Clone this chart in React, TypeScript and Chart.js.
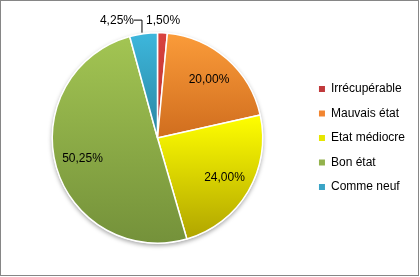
import React, { useEffect, useRef } from "react";
import { Chart, registerables } from "chart.js";

Chart.register(...registerables);

const categories = ["Irrécupérable", "Mauvais état", "Etat médiocre", "Bon état", "Comme neuf"];
const values = [1.5, 20.0, 24.0, 50.25, 4.25];
const valueLabels = ["1,50%", "20,00%", "24,00%", "50,25%", "4,25%"];
const topColors = ["#d9433f", "#fb9c3a", "#ffff00", "#a3c553", "#3db7dd"];
const bottomColors = ["#b8322f", "#d06d1e", "#b0a400", "#74913a", "#2a86a1"];
const legendColors = ["#c0393b", "#f28530", "#e6e600", "#93b24c", "#3aa4c6"];

const FONT = '"Liberation Sans", Arial, sans-serif';

function sliceGradient(ctx: any) {
  const chart = ctx.chart;
  const i = ctx.dataIndex;
  const area = chart.chartArea;
  if (!area || i === undefined) return topColors[i ?? 0];
  const cx = (area.left + area.right) / 2;
  const cy = (area.top + area.bottom) / 2;
  const r = Math.min(area.right - area.left, area.bottom - area.top) / 2;
  const total = values.reduce((a, b) => a + b, 0);
  let cum = 0;
  for (let k = 0; k < i; k++) cum += values[k];
  const a0 = -Math.PI / 2 + (2 * Math.PI * cum) / total;
  const a1 = a0 + (2 * Math.PI * values[i]) / total;
  const ys = [cy, cy + r * Math.sin(a0), cy + r * Math.sin(a1)];
  const within = (a: number) => {
    for (let k = -2; k <= 2; k++) {
      const t = a + k * 2 * Math.PI;
      if (t >= a0 && t <= a1) return true;
    }
    return false;
  };
  if (within(Math.PI / 2)) ys.push(cy + r);
  if (within(-Math.PI / 2)) ys.push(cy - r);
  const y0 = Math.min(...ys);
  const y1 = Math.max(...ys);
  const g = chart.ctx.createLinearGradient(0, y0, 0, y1 + 0.01);
  g.addColorStop(0, topColors[i]);
  g.addColorStop(1, bottomColors[i]);
  return g;
}

const shadowPlugin = {
  id: "pieShadow",
  beforeDatasetsDraw(chart: any) {
    const meta = chart.getDatasetMeta(0);
    const el = meta.data[0];
    if (!el) return;
    const { x, y, outerRadius } = el.getProps(["x", "y", "outerRadius"], true);
    const c = chart.ctx;
    c.save();
    c.beginPath();
    c.arc(x, y, outerRadius + 0.5, 0, Math.PI * 2);
    c.fillStyle = "#ffffff";
    c.shadowColor = "rgba(0,0,0,0.35)";
    c.shadowBlur = 4;
    c.shadowOffsetY = 2;
    c.fill();
    c.restore();
  },
};

const labelPlugin = {
  id: "sliceLabels",
  afterDatasetsDraw(chart: any) {
    const meta = chart.getDatasetMeta(0);
    const c = chart.ctx;
    c.save();
    c.font = `12px ${FONT}`;
    c.fillStyle = "#000000";
    c.textBaseline = "middle";
    meta.data.forEach((el: any, i: number) => {
      const { x, y, startAngle, endAngle, outerRadius } = el.getProps(
        ["x", "y", "startAngle", "endAngle", "outerRadius"],
        true
      );
      const mid = (startAngle + endAngle) / 2;
      const cos = Math.cos(mid);
      const sin = Math.sin(mid);
      if (values[i] >= 10) {
        const rr = outerRadius * 0.74;
        c.textAlign = "center";
        c.fillText(valueLabels[i], x + cos * rr, y + sin * rr);
      } else if (cos >= 0) {
        const rr = outerRadius * 1.12;
        c.textAlign = "center";
        c.fillText(valueLabels[i], x + cos * rr, y + sin * rr + 0.5);
      } else {
        const ex = x + cos * outerRadius;
        const ey = y + sin * outerRadius;
        const ly = y - outerRadius * 1.12 + 0.5;
        const lx = ex - 1.5;
        c.strokeStyle = "#000000";
        c.lineWidth = 1;
        c.beginPath();
        c.moveTo(lx, ey - 1);
        c.lineTo(lx, ly - 0.5);
        c.lineTo(lx - 8, ly - 0.5);
        c.stroke();
        c.textAlign = "right";
        c.fillText(valueLabels[i], lx - 8, ly);
      }
    });
    c.restore();
  },
};

export default function App() {
  const ref = useRef<HTMLCanvasElement | null>(null);
  useEffect(() => {
    if (!ref.current) return;
    const chart = new Chart(ref.current, {
      type: "pie",
      data: {
        labels: categories,
        datasets: [
          {
            data: values,
            backgroundColor: sliceGradient as any,
            borderColor: "#ffffff",
            borderWidth: 1.5,
          },
        ],
      },
      options: {
        animation: false,
        responsive: false,
        devicePixelRatio: 1,
        layout: { padding: { left: 8.5, right: 5, top: 32, bottom: 33 } },
        plugins: {
          tooltip: { enabled: false },
          legend: {
            position: "right",
            labels: {
              boxWidth: 6,
              boxHeight: 6,
              padding: 12.5,
              color: "#000000",
              font: { size: 12, family: FONT },
              generateLabels: () =>
                categories.map((text, i) => ({
                  text,
                  fillStyle: legendColors[i],
                  strokeStyle: legendColors[i],
                  lineWidth: 0,
                  hidden: false,
                  index: i,
                })),
            },
          },
        },
      },
      plugins: [shadowPlugin, labelPlugin],
    });
    return () => chart.destroy();
  }, []);
  return (
    <div style={{ position: "absolute", left: 0, top: 0, width: 420, height: 277, background: "#ffffff" }}>
      <canvas ref={ref} width={420} height={277} style={{ display: "block" }} />
      <div
        style={{
          position: "absolute",
          left: 0,
          top: 0,
          width: 419,
          height: 276,
          boxSizing: "border-box",
          border: "1px solid #868686",
          pointerEvents: "none",
        }}
      />
    </div>
  );
}
